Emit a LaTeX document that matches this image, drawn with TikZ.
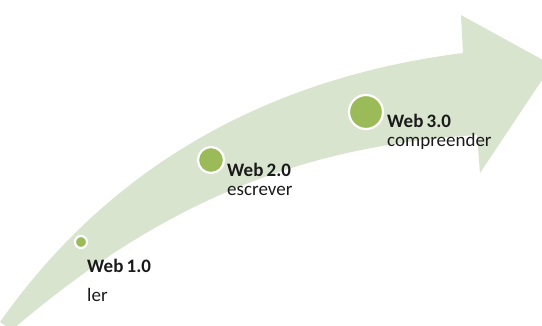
\documentclass[tikz,border=0pt]{standalone}
\usepackage{fontspec}
\setmainfont{Carlito}
\definecolor{bandgreen}{HTML}{D9E4CE}
\definecolor{dotgreen}{HTML}{9BBB59}
\definecolor{inkgray}{HTML}{1A1A1A}
\begin{document}
\begin{tikzpicture}[x=1pt,y=-1pt,
  dot/.style={circle,fill=dotgreen,draw=white,line width=2.2pt,inner sep=0pt},
  stage/.style={anchor=base west,inner sep=0pt,text=inkgray,font=\fontsize{19}{22}\selectfont\bfseries},
  verb/.style={anchor=base west,inner sep=0pt,text=inkgray,font=\fontsize{19}{22}\selectfont}]
\clip (0,0) rectangle (542,325);
\useasboundingbox (0,0) rectangle (542,325);
% curved band ending in a broad arrowhead
\fill[bandgreen] (0,322) .. controls (100,180) and (250,80) .. (463,53)
  -- (461,15) -- (552,65) -- (480,173) -- (477,135)
  .. controls (320,145) and (175,190) .. (12,330) -- cycle;
% milestones on the band
\node[dot,minimum size=12pt] (c1) at (81,242) {};
\node[dot,minimum size=26pt] (c2) at (211,160) {};
\node[dot,minimum size=34pt] (c3) at (366,112) {};
% labels
\node[stage] (w1) at (87,272) {Web\,1.0};
\node[verb]  (v1) at (87,301.5) {ler};
\node[stage] (w2) at (227,176) {Web\,2.0};
\node[verb]  (v2) at (227,195) {escrever};
\node[stage] (w3) at (387,127.5) {Web\,3.0};
\node[verb]  (v3) at (387,146) {compreender};
\end{tikzpicture}
\end{document}
